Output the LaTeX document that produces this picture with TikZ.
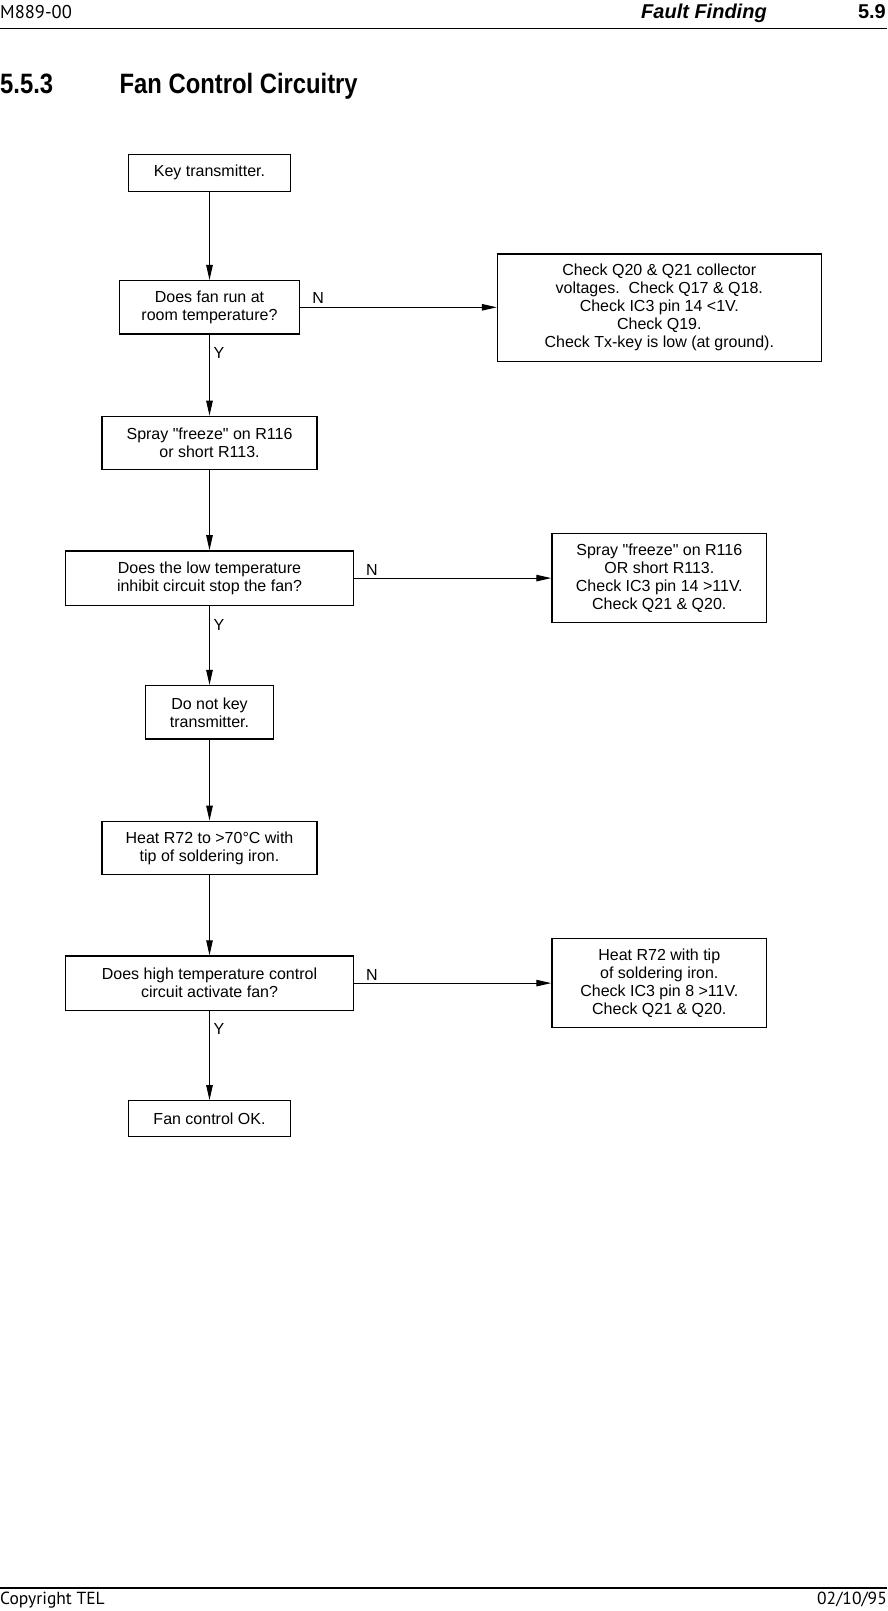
\documentclass[tikz,border=0pt]{standalone}
\usepackage{fontspec}
\setmainfont[Ligatures=TeXOff]{Liberation Sans}
\newfontfamily\hdrfont{PT Sans}
\newfontfamily\ttlfont[FakeStretch=0.85]{Liberation Sans}
\usetikzlibrary{arrows.meta}
\tikzset{
  box/.style={draw, line width=1.3pt, inner sep=0pt, align=center, font=\fontsize{16}{18}\selectfont},
  lbl/.style={inner sep=0pt, font=\fontsize{16}{18}\selectfont},
  arr/.style={line width=1pt, -{Triangle[length=15pt,width=6.5pt]}},
  rule/.style={line width=1.3pt}
}
\begin{document}
\begin{tikzpicture}[x=1pt,y=-1pt]
\useasboundingbox (0,0) rectangle (887,1611);
% header
\node[inner sep=0pt, anchor=base west, font=\hdrfont\fontsize{18.5}{20}\selectfont] (hl) at (0,18.3) {M889-00};
\node[inner sep=0pt, anchor=base west, font=\fontsize{20}{22}\selectfont\bfseries\itshape] (hm) at (641,18.3) {Fault Finding};
\node[inner sep=0pt, anchor=base east, font=\fontsize{20}{22}\selectfont\bfseries] (hr) at (886,18.3) {5.9};
\coordinate (hla) at (0,28.5); \coordinate (hlb) at (887,28.5);
\draw[rule] (hla) -- (hlb);
% title
\node[inner sep=0pt, anchor=base west, font=\ttlfont\fontsize{28}{30}\selectfont\bfseries] (tn) at (0,93.3) {5.5.3};
\node[inner sep=0pt, anchor=base west, font=\ttlfont\fontsize{28}{30}\selectfont\bfseries] (tt) at (119.5,93.3) {Fan Control Circuitry};
% boxes
\node[box, minimum width=161.4pt, minimum height=37pt] (key) at (209.5,172.7) {Key transmitter.};
\node[box, minimum width=179.9pt, minimum height=53.4pt] (q1) at (209.5,307.3) {Does fan run at\\room temperature?};
\node[box, minimum width=323.7pt, minimum height=107.9pt] (c1) at (659.3,307.8) {Check Q20 \& Q21 collector\\voltages.~\ Check Q17 \& Q18.\\Check IC3 pin 14 <1V.\\Check Q19.\\Check Tx-key is low (at ground).};
\node[box, minimum width=214.8pt, minimum height=53.4pt] (s1) at (209.5,443) {Spray "freeze" on R116\\or short R113.};
\node[box, minimum width=287.7pt, minimum height=54.5pt] (q2) at (209.5,578.1) {Does the low temperature\\inhibit circuit stop the fan?};
\node[box, minimum width=214.8pt, minimum height=89.4pt] (c2) at (659.3,578.1) {Spray "freeze" on R116\\OR short R113.\\Check IC3 pin 14 >11V.\\Check Q21 \& Q20.};
\node[box, minimum width=127.5pt, minimum height=53.5pt] (nk) at (209.5,712.3) {Do not key\\transmitter.};
\node[box, minimum width=214.8pt, minimum height=53.5pt] (h1) at (209.5,848) {Heat R72 to >70°C with\\tip of soldering iron.};
\node[box, minimum width=287.7pt, minimum height=54.4pt] (q3) at (209.5,983.1) {Does high temperature control\\circuit activate fan?};
\node[box, minimum width=214.8pt, minimum height=89.4pt] (c3) at (659.3,983.1) {Heat R72 with tip\\of soldering iron.\\Check IC3 pin 8 >11V.\\Check Q21 \& Q20.};
\node[box, minimum width=161.4pt, minimum height=35.9pt] (ok) at (209.5,1118.7) {Fan control OK.};
% vertical connectors
\draw[arr] (key.south) -- (q1.north);
\draw[arr] (q1.south) -- (s1.north);
\draw[arr] (s1.south) -- (q2.north);
\draw[arr] (q2.south) -- (nk.north);
\draw[arr] (nk.south) -- (h1.north);
\draw[arr] (h1.south) -- (q3.north);
\draw[arr] (q3.south) -- (ok.north);
% horizontal connectors
\draw[arr] (q1.east) -- (q1.east -| c1.west);
\draw[arr] (q2.east) -- (q2.east -| c2.west);
\draw[arr] (q3.east) -- (q3.east -| c3.west);
% labels
\node[lbl, anchor=base west] (n1) at ([xshift=12pt,yshift=3.5pt]q1.east) {N};
\node[lbl, anchor=base west] (n2) at ([xshift=12pt,yshift=3pt]q2.east) {N};
\node[lbl, anchor=base west] (n3) at ([xshift=12pt,yshift=3pt]q3.east) {N};
\node[lbl, anchor=base west] (y1) at ([xshift=4pt,yshift=-24pt]q1.south) {Y};
\node[lbl, anchor=base west] (y2) at ([xshift=4pt,yshift=-24pt]q2.south) {Y};
\node[lbl, anchor=base west] (y3) at ([xshift=4pt,yshift=-24pt]q3.south) {Y};
% footer
\coordinate (fla) at (0,1588); \coordinate (flb) at (887,1588);
\draw[rule] (fla) -- (flb);
\node[inner sep=0pt, anchor=base west, font=\hdrfont\fontsize{17.5}{19}\selectfont] (fl) at (0,1604) {Copyright TEL};
\node[inner sep=0pt, anchor=base east, font=\hdrfont\fontsize{17.5}{19}\selectfont] (fr) at (887,1604) {02/10/95};
\end{tikzpicture}
\end{document}
